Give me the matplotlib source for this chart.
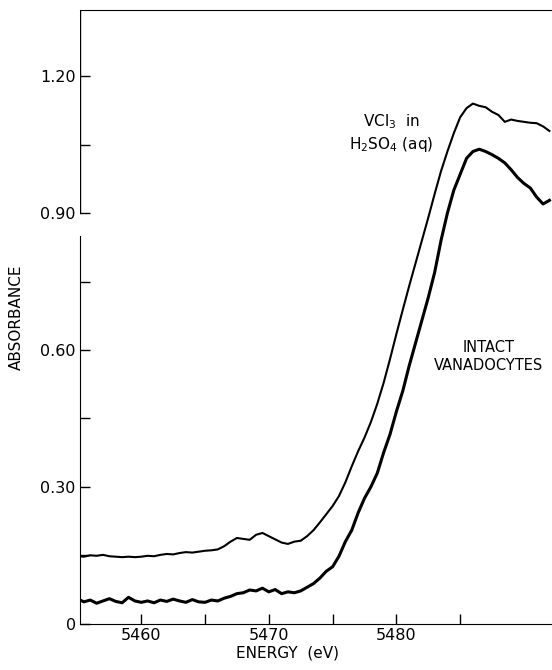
import numpy as np
import matplotlib
matplotlib.use('Agg')
import matplotlib.pyplot as plt
import matplotlib as mpl

mpl.rcParams['font.family'] = 'DejaVu Sans'
mpl.rcParams['font.size'] = 11.5

# energy grid (eV), 0.5 eV steps
energy = np.arange(5455.0, 5492.01, 0.5)

# VCl3 in H2SO4 (aq)
vcl3 = [0.148, 0.147, 0.150, 0.149, 0.151, 0.148, 0.147, 0.146, 0.147, 0.146,
        0.147, 0.149, 0.148, 0.151, 0.153, 0.152, 0.155, 0.157, 0.156, 0.158,
        0.160, 0.161, 0.163, 0.170, 0.180, 0.188, 0.186, 0.184, 0.195, 0.199,
        0.192, 0.185, 0.178, 0.175, 0.180, 0.182, 0.192, 0.205, 0.222, 0.240,
        0.258, 0.280, 0.310, 0.345, 0.378, 0.408, 0.442, 0.482, 0.528, 0.580,
        0.635, 0.688, 0.740, 0.790, 0.840, 0.890, 0.942, 0.992, 1.035, 1.075,
        1.110, 1.130, 1.140, 1.135, 1.132, 1.122, 1.115, 1.100, 1.105, 1.102,
        1.100, 1.098, 1.097, 1.090, 1.080]

# intact vanadocytes
vanad = [0.055, 0.048, 0.052, 0.045, 0.050, 0.055, 0.049, 0.046, 0.058, 0.050,
         0.047, 0.050, 0.046, 0.052, 0.049, 0.054, 0.050, 0.047, 0.053, 0.048,
         0.047, 0.052, 0.050, 0.056, 0.060, 0.066, 0.068, 0.074, 0.072, 0.078,
         0.070, 0.075, 0.066, 0.070, 0.068, 0.072, 0.080, 0.088, 0.100, 0.115,
         0.125, 0.148, 0.180, 0.205, 0.243, 0.275, 0.300, 0.330, 0.375, 0.415,
         0.465, 0.510, 0.565, 0.615, 0.665, 0.715, 0.770, 0.840, 0.900, 0.950,
         0.985, 1.020, 1.035, 1.040, 1.035, 1.028, 1.020, 1.010, 0.995, 0.978,
         0.965, 0.955, 0.935, 0.920, 0.928]

fig = plt.figure(figsize=(5.52, 6.70), dpi=100)
ax = fig.add_axes([0.145, 0.069, 0.855, 0.916])

ax.plot(energy, vcl3, color='black', lw=1.5)
ax.plot(energy, vanad, color='black', lw=2.2)

ax.set_xlim(5455.2, 5492.2)
ax.set_ylim(0, 1.345)

ax.set_xticks([5460, 5470, 5480])
ax.set_xticks([5465, 5475, 5485], minor=True)
ax.set_yticks([0, 0.30, 0.60, 0.90, 1.20])
ax.set_yticklabels(['0', '0.30', '0.60', '0.90', '1.20'])
ax.set_yticks([0.15, 0.45, 0.75, 1.05], minor=True)
ax.tick_params(which='both', direction='in', length=7, width=1, pad=3)

ax.spines['right'].set_visible(False)
# small break in the left axis line above 0.90
ax.spines['left'].set_bounds(0, 0.85)
ax.axvline(5455.2, ymin=0.90 / 1.345, ymax=1, color='black', lw=1)

ax.set_ylabel('ABSORBANCE', fontsize=11, labelpad=12)
ax.set_xlabel('ENERGY  (eV)', fontsize=11)
ax.xaxis.set_label_coords(0.44, -0.035)

ax.text(5479.6, 1.10, r'VCl$_3$  in', ha='center', va='center', fontsize=11)
ax.text(5479.6, 1.05, r'H$_2$SO$_4$ (aq)', ha='center', va='center', fontsize=11)
ax.text(5487.2, 0.605, 'INTACT', ha='center', va='center', fontsize=10.5)
ax.text(5487.2, 0.567, 'VANADOCYTES', ha='center', va='center', fontsize=10.5)

plt.savefig('out.png', dpi=100)
